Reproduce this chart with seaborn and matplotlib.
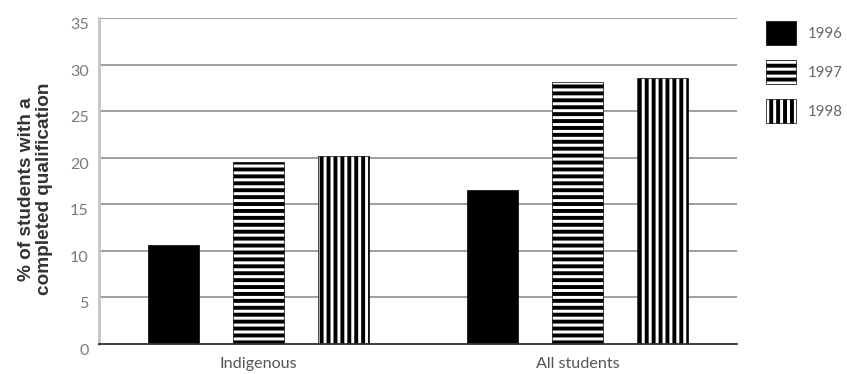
import matplotlib
matplotlib.use("Agg")
import matplotlib.pyplot as plt
from matplotlib.patches import Patch
import seaborn as sns
import pandas as pd

# Share of students holding a completed qualification, by group and year
groups = ["Indigenous", "All students"]
years = ["1996", "1997", "1998"]
values_1996 = [10.6, 16.5]
values_1997 = [19.5, 28.1]
values_1998 = [20.2, 28.6]
y_ticks = [0, 5, 10, 15, 20, 25, 30, 35]

df = pd.DataFrame({
    "group": groups * 3,
    "year": [y for y in years for _ in groups],
    "value": values_1996 + values_1997 + values_1998,
})

DPI = 83
W, H = 848, 374

sns.set_theme(style="white")
plt.rcParams["font.family"] = ["Lato", "DejaVu Sans"]
plt.rcParams["hatch.linewidth"] = 3.4

fig = plt.figure(figsize=(W / DPI, H / DPI), dpi=DPI)
ax = fig.add_axes([99 / W, (H - 344) / H, (737 - 99) / W, (344 - 18) / H])

# gridlines first so the bars sit on top of them
for t in y_ticks[1:]:
    ax.axhline(t, color="#9a9a9a", lw=1.6, zorder=0)

palette = {"1996": "black", "1997": "white", "1998": "white"}
sns.barplot(data=df, x="group", y="value", hue="year", hue_order=years,
            order=groups, palette=palette, width=0.8, gap=0.4,
            edgecolor="#111111", linewidth=0.6, legend=False,
            errorbar=None, ax=ax, zorder=2)

hatches = {"1996": "", "1997": "--", "1998": "||"}
bars = ax.patches
for i, yr in enumerate(years):
    for bar in bars[i * len(groups):(i + 1) * len(groups)]:
        bar.set_hatch(hatches[yr])
        bar.set_edgecolor("black")

ax.set_xlim(-0.5, 1.5)
ax.set_ylim(0, 35)
ax.set_yticks(y_ticks)
ax.set_yticklabels([str(t) for t in y_ticks], color="#7a7a7a", fontsize=14)
for lbl in ax.get_yticklabels():
    lbl.set_verticalalignment("top")
ax.tick_params(axis="y", length=0, pad=9)
ax.tick_params(axis="x", length=0, pad=11, labelsize=14, labelcolor="#555555")
ax.set_xticks(range(len(groups)))
ax.set_xticklabels(groups)

# small separators between the groups on the baseline
ax.set_xticks([0.5, 1.5], minor=True)
ax.tick_params(axis="x", which="minor", direction="in", length=5,
               width=1.2, color="#777777")

for side in ["top", "right"]:
    ax.spines[side].set_visible(False)
ax.spines["left"].set_color("#c4c4c4")
ax.spines["left"].set_linewidth(2.4)
ax.spines["bottom"].set_color("#333333")
ax.spines["bottom"].set_linewidth(1.6)
ax.set_xlabel("")
ax.set_ylabel("% of students with a\ncompleted qualification",
              fontsize=16.5, fontweight="bold", color="#333333",
              family=["Liberation Sans", "DejaVu Sans"], linespacing=1.1)
ax.yaxis.set_label_coords(-0.072, 0.475)

handles = [Patch(facecolor=palette[y], edgecolor="black", hatch=hatches[y],
                 linewidth=0.6) for y in years]
fig.legend(handles, years, loc="upper left",
           bbox_to_anchor=(766 / W, 1 - 21 / H), frameon=False,
           fontsize=13, labelcolor="#666666", handlelength=2.0,
           handleheight=2.1, labelspacing=1.0, handletextpad=0.8,
           borderpad=0, borderaxespad=0)

fig.savefig("out.png", dpi=DPI, facecolor="white")
